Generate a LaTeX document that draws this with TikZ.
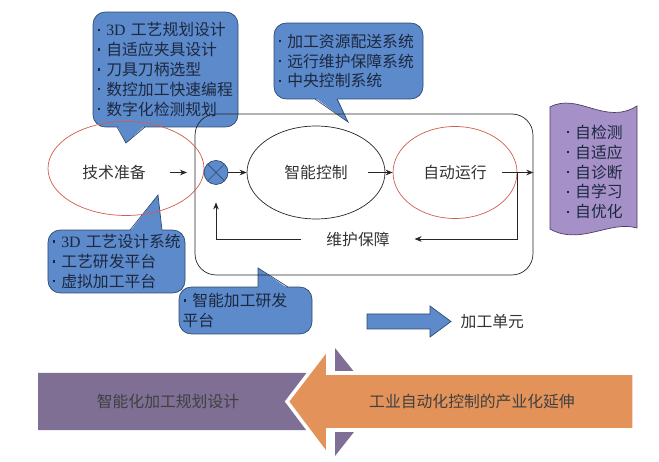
\documentclass[tikz,border=0pt]{standalone}
\usepackage{fontspec}
\newfontfamily\cjk{Noto Sans CJK SC}
\newfontfamily\lat{Liberation Serif}
\usetikzlibrary{shapes.geometric,arrows.meta,calc,positioning}

\definecolor{noteblue}{HTML}{5C8ACA}
\definecolor{noteline}{HTML}{2E4A70}
\definecolor{notetext}{HTML}{1C2840}
\definecolor{ringred}{HTML}{D25C4F}
\definecolor{flagfill}{HTML}{A690C8}
\definecolor{flagline}{HTML}{4B3E66}
\definecolor{barpurple}{HTML}{7F6F94}
\definecolor{barorange}{HTML}{E3925A}

\newcommand\bul{\makebox[0.62em][l]{\hspace{0.08em}\rule[0.31em]{1.3pt}{1.3pt}}}

\tikzset{
  txt/.style={font=\cjk\fontsize{9}{11.3}\selectfont, text=black!80},
  note/.style={txt, text=notetext, draw=noteline, fill=noteblue, rounded corners=7pt,
    align=left, inner xsep=2pt, inner ysep=0pt},
  ring/.style={draw, ellipse, inner sep=0pt},
  mixer/.style={circle, draw=noteline, fill=noteblue, minimum size=0.48cm, inner sep=0pt,
    path picture={\draw[noteline] (path picture bounding box.north west) -- (path picture bounding box.south east)
      (path picture bounding box.north east) -- (path picture bounding box.south west);}},
  flow/.style={-{Stealth[length=4pt,width=3.2pt]}, black!85},
}

\begin{document}
\begin{tikzpicture}[x=0.02cm,y=-0.02cm]
\useasboundingbox (0,0) rectangle (659,462);

% callouts
\node[note, text width=2.76cm, minimum height=2.3cm] (plan) at (165.5,69.5)
  {\bul{\lat 3D} 工艺规划设计\\ \bul 自适应夹具设计\\ \bul 刀具刀柄选型\\ \bul 数控加工快速编程\\ \bul 数字化检测规划};
\fill[noteblue] (117,125.5) -- (126,143) -- (145,125.5) -- cycle;
\draw[noteline] (117,127) -- (126,143) -- (145,127);

\node[note, text width=2.84cm, minimum height=1.52cm] (supply) at (348.5,61)
  {\bul 加工资源配送系统\\ \bul 远行维护保障系统\\ \bul 中央控制系统};
\fill[noteblue] (315,97.5) -- (348,122) -- (337,97.5) -- cycle;
\draw[noteline] (315,99) -- (348,122) -- (337,99);

\node[note, text width=2.6cm, minimum height=1.26cm] (proc) at (116.5,261.5)
  {\bul{\lat 3D} 工艺设计系统\\ \bul 工艺研发平台\\ \bul 虚拟加工平台};
\fill[noteblue] (130,231.5) -- (158,195) -- (162,231.5) -- cycle;
\draw[noteline] (130,230) -- (158,195) -- (162,230);

\node[note, text width=2.52cm, minimum height=0.94cm] (lab) at (245.5,310.5)
  {\bul 智能加工研发\\平台};
\fill[noteblue] (258,288.5) -- (258,268) -- (288,288.5) -- cycle;
\draw[noteline] (258,287) -- (258,268) -- (288,287);

% self-x flag
\filldraw[fill=flagfill, draw=flagline] (550,107) .. controls (578,92) and (605,126) .. (637,106)
  -- (637,228) .. controls (610,220) and (580,246) .. (550,229) -- cycle;
\node[txt, align=left, text=notetext] (selfs) at (594,172)
  {\bul 自检测\\ \bul 自适应\\ \bul 自诊断\\ \bul 自学习\\ \bul 自优化};

% unit
\node[draw, black!85, rounded corners=12pt, minimum width=6.76cm, minimum height=3.22cm] (cell) at (364,194.5) {};
\node[ring, draw=ringred, minimum width=3.12cm, minimum height=1.88cm] (prep) at (126,168.5) {};
\node[txt] (prepT) at (114,172.5) {技术准备};
\node[mixer] (mix) at (216,172.5) {};
\node[ring, txt, draw=black!85, minimum width=2.76cm, minimum height=1.86cm] (ctrl) at (316,172.5) {智能控制};
\node[ring, txt, draw=ringred, minimum width=2.48cm, minimum height=1.84cm] (run) at (455,172.5) {自动运行};
\node[txt, inner xsep=14pt] (care) at (358,239) {维护保障};

\draw[flow, shorten <=10.5pt, shorten >=9.5pt] (prepT) -- (mix);
\draw[flow] (mix) -- (ctrl);
\draw[flow] ([xshift=-10pt]ctrl.east) -- (run);
\draw[flow] ([xshift=-9pt]run.east) -- (run.east -| cell.east);
\draw[flow] (run.east) |- (care.east);
\draw[flow, shorten >=10pt] (care.west) -| (mix.south);

% legend arrow
\filldraw[fill=noteblue, draw=noteline] (367,314) -- (430,314) -- (430,306) -- (451,321.5)
  -- (430,337) -- (430,329) -- (367,329) -- cycle;
\coordinate (tipU) at (451,321.5);
\node[txt] (unitT) at (tipU) [right=2pt] {加工单元};

% bottom bars
\fill[barpurple] (38,373) -- (335,373) -- (335,348) -- (378,401.5) -- (335,456) -- (335,430) -- (38,430) -- cycle;
\filldraw[fill=barorange, draw=white, line width=2pt] (634,373) -- (328,373) -- (328,348) -- (287,401.5)
  -- (328,456) -- (328,430) -- (634,430) -- cycle;
\node[txt, text=black!75] (designT) at (168,401.5) {智能化加工规划设计};
\node[txt, text=black!75] (extendT) at (472,401.5) {工业自动化控制的产业化延伸};
\end{tikzpicture}
\end{document}
